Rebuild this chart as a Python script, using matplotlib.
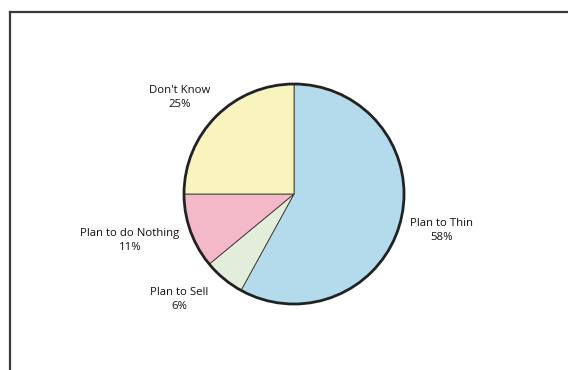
import numpy as np
import matplotlib.pyplot as plt
from matplotlib.patches import Circle
from matplotlib.lines import Line2D

labels = ["Plan to Thin", "Plan to Sell", "Plan to do Nothing", "Don't Know"]
shares = [58, 6, 11, 25]
colors = ["#b3dbec", "#e2eed9", "#f3b9c9", "#f9f4bd"]
# label anchors in units of the pie radius
label_xy = [(1.34, -0.33), (-1.04, -0.96), (-1.49, -0.42), (-1.04, 0.88)]

W, H = 568, 370
fig = plt.figure(figsize=(W / 100, H / 100), dpi=100)
fig.patch.set_facecolor("white")

# frame lines along the top and left edge
fig.add_artist(Line2D([10 / W, 1.0], [1 - 12 / H, 1 - 12 / H], color="#3a3a3a", lw=1.6))
fig.add_artist(Line2D([10 / W, 10 / W], [1 - 12 / H, 0.0], color="#3a3a3a", lw=1.6))

cx, cy, r = 294, 194, 110
ax = fig.add_axes([(cx - r) / W, (H - cy - r) / H, 2 * r / W, 2 * r / H])
wedges, _ = ax.pie(shares, colors=colors, startangle=90, counterclock=False,
                   wedgeprops=dict(edgecolor="#333333", linewidth=0.6))
ax.set_xlim(-1, 1)
ax.set_ylim(-1, 1)
ax.set_aspect("equal")
ax.axis("off")
ax.add_patch(Circle((0, 0), 1, fill=False, edgecolor="#222222", lw=2.0, clip_on=False))

for (x, y), lab, s in zip(label_xy, labels, shares):
    ax.text(x, y, f"{lab}\n{s}%", ha="center", va="center",
            fontsize=8.2, family="Open Sans", color="#111111", linespacing=1.35,
            clip_on=False)

fig.savefig("out.png", dpi=100)
